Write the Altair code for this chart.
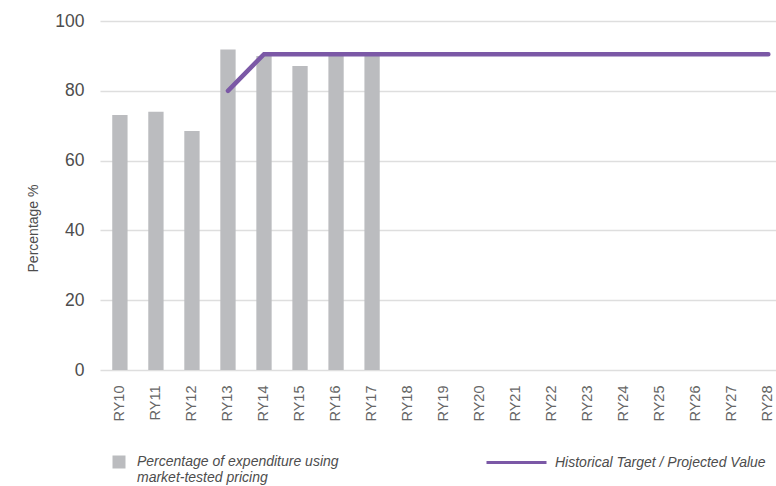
import altair as alt
import pandas as pd

# Reporting years on the x axis
years = ["RY10", "RY11", "RY12", "RY13", "RY14", "RY15", "RY16", "RY17", "RY18",
         "RY19", "RY20", "RY21", "RY22", "RY23", "RY24", "RY25", "RY26", "RY27", "RY28"]

# Percentage of expenditure using market-tested pricing (actuals)
bar_years = ["RY10", "RY11", "RY12", "RY13", "RY14", "RY15", "RY16", "RY17"]
bar_values = [73.1, 74.0, 68.5, 91.8, 90.0, 87.1, 90.0, 90.0]

# Historical target / projected value
line_years = ["RY13", "RY14", "RY15", "RY16", "RY17", "RY18", "RY19", "RY20", "RY21",
              "RY22", "RY23", "RY24", "RY25", "RY26", "RY27", "RY28"]
line_values = [80.0, 90.5, 90.5, 90.5, 90.5, 90.5, 90.5, 90.5, 90.5,
               90.5, 90.5, 90.5, 90.5, 90.5, 90.5, 90.5]

bar_label = "Percentage of expenditure using|market-tested pricing"
line_label = "Historical Target / Projected Value"

bars_df = pd.DataFrame({"year": bar_years, "value": bar_values, "series": bar_label})
line_df = pd.DataFrame({"year": line_years, "value": line_values, "series": line_label})

FONT = "Liberation Sans"
TEXT = "#4d4d4d"
LIGHT_TEXT = "#666666"

x_enc = alt.X(
    "year:N",
    sort=years,
    scale=alt.Scale(domain=years, paddingInner=0.575, paddingOuter=0.17, align=1),
    axis=alt.Axis(title=None, labelAngle=-90, labelFontSize=14.5, labelColor=LIGHT_TEXT,
                  labelFont=FONT, labelPadding=15, ticks=False, domain=False, grid=False),
)
y_enc = alt.Y(
    "value:Q",
    scale=alt.Scale(domain=[0, 100], nice=False),
    axis=alt.Axis(title="Percentage %", values=[0, 20, 40, 60, 80, 100],
                  labelFontSize=17.5, labelColor=TEXT, labelFont=FONT, labelPadding=16,
                  ticks=False, domain=False, gridColor="#dedede", gridWidth=1.5,
                  titleFont=FONT, titleFontSize=14, titleFontWeight="normal",
                  titleColor=TEXT, titleAngle=-90, titleAlign="center",
                  titleBaseline="bottom", titleX=-60, titleY=207),
)

bars = alt.Chart(bars_df).mark_bar(color="#bbbcbf").encode(
    x=x_enc,
    y=y_enc,
    fill=alt.Fill(
        "series:N",
        scale=alt.Scale(domain=[bar_label], range=["#bbbcbf"]),
        legend=alt.Legend(
            title=None, orient="none", legendX=12, legendY=434, padding=0,
            symbolType="square", symbolSize=169, symbolStrokeWidth=0,
            labelFont=FONT, labelFontSize=14, labelFontStyle="italic",
            labelColor=TEXT, labelOffset=11, labelLimit=400,
            labelExpr="split(datum.label, '|')",
        ),
    ),
)

line = alt.Chart(line_df).mark_line(strokeWidth=4.5, strokeCap="round").encode(
    x=alt.X("year:N", sort=years),
    y=alt.Y("value:Q"),
    stroke=alt.Stroke(
        "series:N",
        scale=alt.Scale(domain=[line_label], range=["#7b58a6"]),
        legend=alt.Legend(
            title=None, orient="none", legendX=385, legendY=410, padding=0,
            symbolType="stroke", symbolSize=3600, symbolStrokeWidth=3,
            labelFont=FONT, labelFontSize=14, labelFontStyle="italic",
            labelColor=TEXT, labelOffset=7, labelLimit=400,
        ),
    ),
)

chart = (
    alt.layer(bars, line)
    .resolve_scale(fill="independent", stroke="independent")
    .properties(
        width=676,
        height=349,
        autosize=alt.AutoSizeParams(type="none"),
        padding={"left": 100, "top": 21, "right": 0, "bottom": 116},
        background="white",
    )
    .configure_view(stroke=None)
)

chart.save("out.html", embed_options={"renderer": "svg", "actions": False})
